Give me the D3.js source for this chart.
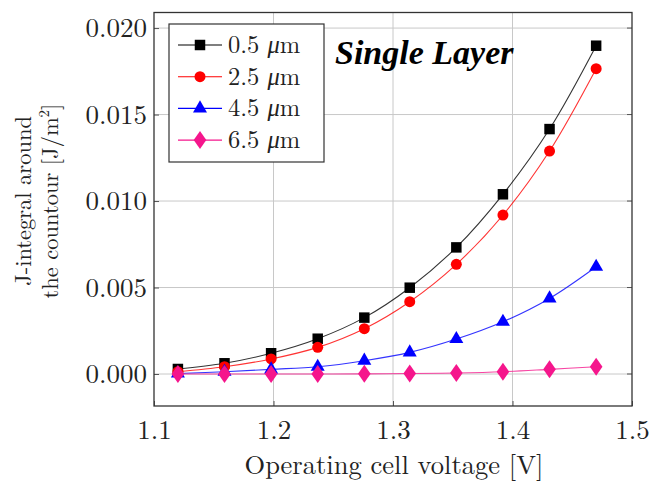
<!DOCTYPE html>
<html>
<head>
<meta charset="utf-8">
<script src="https://cdn.jsdelivr.net/npm/d3@7"></script>
<style>
  body { margin: 0; background: #fff; }
  svg text { font-family: "Latin Modern Roman", "Liberation Serif", serif; }
</style>
</head>
<body>
<div id="app"></div>
<script>
// data
const voltage = [1.12, 1.159, 1.198, 1.237, 1.276, 1.314, 1.353, 1.392, 1.431, 1.47];
const j05 = [0.00029, 0.00062, 0.0012, 0.00204, 0.00326, 0.00499, 0.00732, 0.01039, 0.01416, 0.01898];
const j25 = [0.00013, 0.00042, 0.00087, 0.00154, 0.00262, 0.00418, 0.00634, 0.00919, 0.01289, 0.01765];
const j45 = [0.00003, 0.00013, 0.00027, 0.00042, 0.00077, 0.00125, 0.00202, 0.00302, 0.00437, 0.0062];
const j65 = [0.0, 0.0, 0.0, 0.0, 0.00001, 0.00003, 0.00006, 0.00013, 0.00027, 0.00042];
const seriesNames = ["0.5", "2.5", "4.5", "6.5"];
const xTicks = [1.1, 1.2, 1.3, 1.4, 1.5];
const yTicks = [0, 0.005, 0.01, 0.015, 0.02];

const W = 651, H = 481;
const pL = 154, pR = 632, pT = 12.5, pB = 406;
const LM = '"Latin Modern Roman", "Liberation Serif", serif';

// pgfplots-like diamond, a bit taller than wide
const tallDiamond = {
  draw(ctx, size) {
    const h = Math.sqrt(size) * 0.95, w = h * 0.7;
    ctx.moveTo(0, -h); ctx.lineTo(w, 0); ctx.lineTo(0, h); ctx.lineTo(-w, 0); ctx.closePath();
  }
};

const series = [
  { name: seriesNames[0], values: j05, color: "#000000", marker: d3.symbolSquare, size: 110 },
  { name: seriesNames[1], values: j25, color: "#ff0000", marker: d3.symbolCircle, size: 95 },
  { name: seriesNames[2], values: j45, color: "#0000ff", marker: d3.symbolTriangle, size: 85 },
  { name: seriesNames[3], values: j65, color: "#f5168c", marker: tallDiamond, size: 90 }
];

const svg = d3.select("#app").append("svg")
  .attr("width", W).attr("height", H);

const x = d3.scaleLinear().domain([1.1, 1.5]).range([pL, pR]);
const y = d3.scaleLinear().domain([-0.00185, 0.0209]).range([pB, pT]);

// grid
svg.append("g").selectAll("line").data(xTicks.slice(1, -1)).enter().append("line")
  .attr("x1", d => x(d)).attr("x2", d => x(d))
  .attr("y1", pT).attr("y2", pB)
  .attr("stroke", "#c8c8c8").attr("stroke-width", 1);
svg.append("g").selectAll("line").data(yTicks).enter().append("line")
  .attr("x1", pL).attr("x2", pR)
  .attr("y1", d => y(d)).attr("y2", d => y(d))
  .attr("stroke", "#c8c8c8").attr("stroke-width", 1);

// axes, ticks pointing inward
const gx = svg.append("g").attr("transform", `translate(0,${pB})`)
  .call(d3.axisBottom(x).tickValues(xTicks).tickFormat(d3.format(".1f")).tickSize(-5).tickPadding(14));
const gy = svg.append("g").attr("transform", `translate(${pL},0)`)
  .call(d3.axisLeft(y).tickValues(yTicks).tickFormat(d3.format(".3f")).tickSize(-5).tickPadding(7));
[gx, gy].forEach(g => {
  g.select(".domain").remove();
  g.selectAll("line").attr("stroke", "#555");
  g.selectAll("text").attr("font-size", 27).attr("fill", "#222").style("font-family", LM);
});
gx.selectAll("text").attr("dy", "0.71em");

// right-side ticks
svg.append("g").selectAll("line").data(yTicks).enter().append("line")
  .attr("x1", pR - 5).attr("x2", pR)
  .attr("y1", d => y(d)).attr("y2", d => y(d)).attr("stroke", "#555");

// frame
svg.append("rect").attr("x", pL).attr("y", pT)
  .attr("width", pR - pL).attr("height", pB - pT)
  .attr("fill", "none").attr("stroke", "#333").attr("stroke-width", 1.3);

// curves
const line = d3.line().x(d => x(d[0])).y(d => y(d[1])).curve(d3.curveCatmullRom.alpha(0.5));
series.forEach(s => {
  const pts = voltage.map((v, i) => [v, s.values[i]]);
  svg.append("path").datum(pts).attr("d", line)
    .attr("fill", "none").attr("stroke", s.color).attr("stroke-width", 1.1)
    .attr("opacity", 0.8);
});
series.forEach(s => {
  const pts = voltage.map((v, i) => [v, s.values[i]]);
  svg.append("g").selectAll("path").data(pts).enter().append("path")
    .attr("d", d3.symbol().type(s.marker).size(s.size))
    .attr("transform", d => `translate(${x(d[0])},${y(d[1])})`)
    .attr("fill", s.color);
});

// legend
const lg = svg.append("g");
lg.append("rect").attr("x", 169).attr("y", 24).attr("width", 155).attr("height", 138)
  .attr("fill", "#fff").attr("stroke", "#333").attr("stroke-width", 1.2);
series.forEach((s, i) => {
  const cy = 45 + i * 31.7;
  lg.append("line").attr("x1", 178).attr("x2", 222).attr("y1", cy).attr("y2", cy)
    .attr("stroke", s.color).attr("stroke-width", 1.1);
  lg.append("path").attr("d", d3.symbol().type(s.marker).size(s.size))
    .attr("transform", `translate(200,${cy})`)
    .attr("fill", s.color);
  const t = lg.append("text").attr("x", 228).attr("y", cy + 8)
    .attr("font-size", 24.5).attr("fill", "#222").style("font-family", LM);
  t.append("tspan").text(s.name + " ");
  t.append("tspan").attr("font-style", "italic").text("\u03bc");
  t.append("tspan").text("m");
});

// annotation
svg.append("text").attr("x", 335).attr("y", 64)
  .attr("font-size", 34).attr("fill", "#000")
  .style("font-family", '"Liberation Serif", "Times New Roman", serif')
  .style("font-weight", "bold").style("font-style", "italic")
  .text("Single Layer");

// axis titles
svg.append("text").attr("x", (pL + pR) / 2 + 1).attr("y", 474)
  .attr("text-anchor", "middle").attr("font-size", 26.5).attr("fill", "#222")
  .style("font-family", LM)
  .text("Operating cell voltage [V]");

const yl = svg.append("g").attr("transform", "translate(0,201) rotate(-90)");
yl.append("text").attr("x", 0).attr("y", 31).attr("text-anchor", "middle")
  .attr("font-size", 22.5).attr("fill", "#222").style("font-family", LM).text("J-integral around");
const yl2 = yl.append("text").attr("x", 0).attr("y", 58).attr("text-anchor", "middle")
  .attr("font-size", 22.5).attr("fill", "#222").style("font-family", LM);
yl2.append("tspan").text("the countour [J/m");
yl2.append("tspan").attr("font-size", 15).attr("dy", -9).text("2");
yl2.append("tspan").attr("dy", 9).text("]");
</script>
</body>
</html>
